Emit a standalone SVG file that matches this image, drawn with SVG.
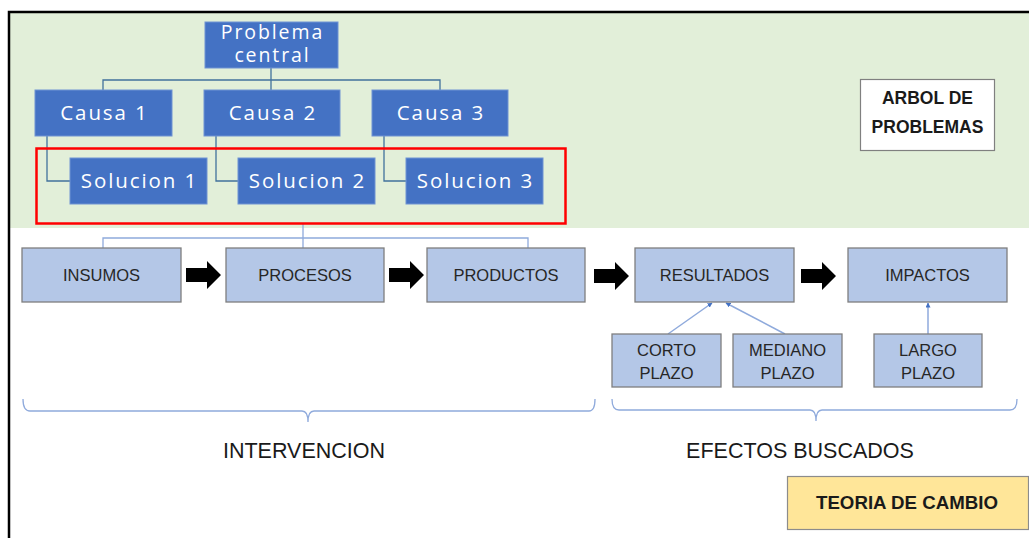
<svg xmlns="http://www.w3.org/2000/svg" width="1029" height="538" viewBox="0 0 1029 538">
<style>
.top rect{fill:#4472c4;stroke:#6f93d3;stroke-width:1}
.top text{fill:#ffffff;font-family:"Open Sans","Noto Sans",sans-serif;font-size:20.5px;text-anchor:middle;letter-spacing:1.9px}
#problema text{font-size:19.5px}
.low rect{fill:#b4c7e7;stroke:#7f7f7f;stroke-width:1.3}
.low text{fill:#262626;font-family:"Liberation Sans",Arial,sans-serif;font-size:16.5px;text-anchor:middle}
.tc{fill:none;stroke:#41719c;stroke-width:1.3}
.lc{fill:none;stroke:#8faadc;stroke-width:1.3}
.ac{fill:none;stroke:#8faadc;stroke-width:1.5}
.lbl{fill:#1a1a1a;font-family:"Liberation Sans",Arial,sans-serif;font-size:21.5px;text-anchor:middle}
.bold{fill:#1a1a1a;font-family:"Liberation Sans",Arial,sans-serif;font-size:17.5px;font-weight:bold;text-anchor:middle}
</style>
<defs>
<path id="blk" d="M0,-7 H21 V-14 L35,0 L21,14 V7 H0 Z" fill="#000"/>
<marker id="ah" viewBox="0 0 10 10" refX="9" refY="5" markerWidth="5" markerHeight="5" orient="auto-start-reverse" markerUnits="userSpaceOnUse">
<path d="M0,0 L10,5 L0,10 Z" fill="#4472c4"/>
</marker>
</defs>
<rect x="0" y="0" width="1029" height="538" fill="#ffffff"/>
<rect x="10" y="13" width="1019" height="215" fill="#e2efd9"/>
<path d="M9,538 V12 H1029" fill="none" stroke="#000" stroke-width="2.5"/>

<g id="connectors">
<path class="tc" d="M271,68 V80 M103,90 V80 H440 V90 M271,80 V90"/>
<path class="tc" d="M47,136 V181 H70 M216,136 V181 H238 M384,136 V181 H406"/>
<path class="lc" d="M303,224 V238 M103,248 V238 H528 V248 M303,238 V248"/>
<use href="#blk" x="186" y="275"/>
<use href="#blk" x="389" y="275"/>
<use href="#blk" x="594" y="276"/>
<use href="#blk" x="801" y="276"/>
<line class="ac" x1="668" y1="334" x2="712" y2="303" marker-end="url(#ah)"/>
<line class="ac" x1="785" y1="334" x2="726" y2="303" marker-end="url(#ah)"/>
<line class="ac" x1="928" y1="334" x2="928" y2="303" marker-end="url(#ah)"/>
<path class="lc" d="M23,399 Q23,411 30,411 H302 Q308,411 308,422 Q308,411 314,411 H589 Q595,411 595,399"/>
<path class="lc" d="M612,399 Q612,410 619,410 H810 Q816,410 816,421 Q816,410 822,410 H1010 Q1017,410 1017,399"/>
</g>

<g id="problema" class="top"><rect x="205" y="22" width="133" height="46"/><text x="272.5" y="38.5">Problema</text><text x="272.5" y="62">central</text></g>
<g id="causa1" class="top"><rect x="35" y="90" width="137" height="46"/><text x="104.5" y="120">Causa 1</text></g>
<g id="causa2" class="top"><rect x="204" y="90" width="136" height="46"/><text x="273" y="120">Causa 2</text></g>
<g id="causa3" class="top"><rect x="372" y="90" width="136" height="46"/><text x="441" y="120">Causa 3</text></g>
<g id="solucion1" class="top"><rect x="70" y="158" width="137" height="46"/><text x="139.5" y="188">Solucion 1</text></g>
<g id="solucion2" class="top"><rect x="238" y="158" width="137" height="46"/><text x="307.5" y="188">Solucion 2</text></g>
<g id="solucion3" class="top"><rect x="406" y="158" width="137" height="46"/><text x="475.5" y="188">Solucion 3</text></g>
<g id="highlight"><rect x="36.5" y="148.5" width="529" height="75" fill="none" stroke="#ff0000" stroke-width="2.5"/></g>

<g id="arbol"><rect x="860.5" y="79.5" width="134" height="71" fill="#ffffff" stroke="#808080" stroke-width="1.2"/><text class="bold" x="927.5" y="104">ARBOL DE</text><text class="bold" x="927.5" y="133">PROBLEMAS</text></g>

<g id="insumos" class="low"><rect x="22" y="248" width="159" height="54"/><text x="101.5" y="281">INSUMOS</text></g>
<g id="procesos" class="low"><rect x="226" y="248" width="158" height="54"/><text x="305" y="281">PROCESOS</text></g>
<g id="productos" class="low"><rect x="427" y="248" width="158" height="54"/><text x="506" y="281">PRODUCTOS</text></g>
<g id="resultados" class="low"><rect x="635" y="248" width="159" height="54"/><text x="714.5" y="281">RESULTADOS</text></g>
<g id="impactos" class="low"><rect x="848" y="248" width="159" height="54"/><text x="927.5" y="281">IMPACTOS</text></g>
<g id="corto" class="low"><rect x="612" y="334" width="109" height="53"/><text x="666.5" y="356">CORTO</text><text x="666.5" y="379">PLAZO</text></g>
<g id="mediano" class="low"><rect x="733" y="334" width="109" height="53"/><text x="787.5" y="356">MEDIANO</text><text x="787.5" y="379">PLAZO</text></g>
<g id="largo" class="low"><rect x="874" y="334" width="108" height="53"/><text x="928" y="356">LARGO</text><text x="928" y="379">PLAZO</text></g>

<g id="intervencion"><text class="lbl" x="304" y="458">INTERVENCION</text></g>
<g id="efectos"><text class="lbl" x="800" y="458">EFECTOS BUSCADOS</text></g>
<g id="teoria"><rect x="787.5" y="476.5" width="241" height="53" fill="#ffe699" stroke="#8c8c8c" stroke-width="1.2"/><text class="bold" x="907" y="509" textLength="182" lengthAdjust="spacingAndGlyphs">TEORIA DE CAMBIO</text></g>
</svg>
